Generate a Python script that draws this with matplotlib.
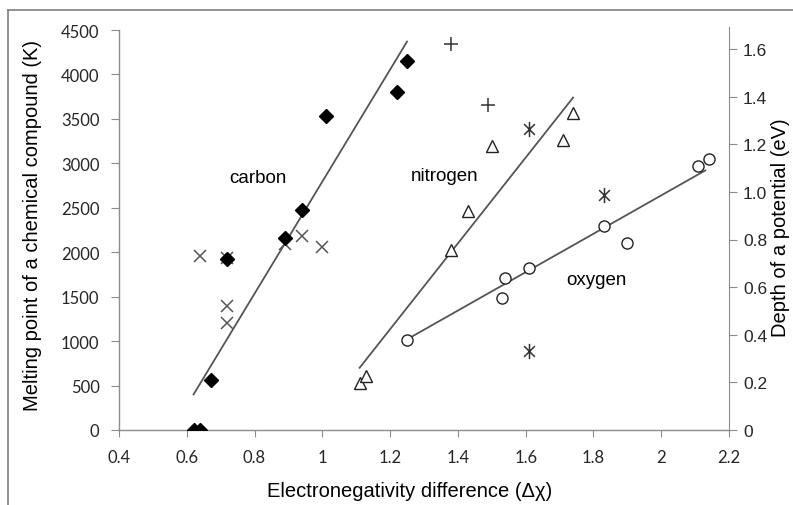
import numpy as np
import matplotlib
matplotlib.use("Agg")
import matplotlib.pyplot as plt
from matplotlib.path import Path
from matplotlib.lines import Line2D

# ---- data ----
carbon_x = [0.62, 0.64, 0.67, 0.72, 0.89, 0.94, 1.01, 1.22, 1.25]
carbon_y = [0, 0, 560, 1920, 2160, 2470, 3530, 3800, 4150]
cross_x = [0.64, 0.72, 0.72, 0.72, 0.89, 0.94, 1.00]
cross_y = [1960, 1940, 1400, 1200, 2090, 2180, 2060]
plus_x = [1.38, 1.49]
plus_y = [4340, 3660]
star_x = [1.61, 1.83, 1.61]
star_y = [3390, 2640, 890]
tri_x = [1.11, 1.13, 1.38, 1.43, 1.50, 1.71, 1.74]
tri_y = [530, 610, 2020, 2460, 3190, 3260, 3570]
circ_x = [1.25, 1.53, 1.54, 1.61, 1.83, 1.90, 2.11, 2.14]
circ_y = [1010, 1490, 1710, 1820, 2300, 2100, 2970, 3050]

carbon_fit_x = [0.62, 1.25]
carbon_fit_y = [400, 4370]
nitrogen_fit_x = [1.11, 1.74]
nitrogen_fit_y = [700, 3740]
oxygen_fit_x = [1.25, 2.13]
oxygen_fit_y = [1020, 2920]

x_ticks = [0.4, 0.6, 0.8, 1.0, 1.2, 1.4, 1.6, 1.8, 2.0, 2.2]
x_tick_labels = ["0.4", "0.6", "0.8", "1", "1.2", "1.4", "1.6", "1.8", "2", "2.2"]
y_ticks = [0, 500, 1000, 1500, 2000, 2500, 3000, 3500, 4000, 4500]
y2_ticks = [0, 0.2, 0.4, 0.6, 0.8, 1.0, 1.2, 1.4, 1.6]
y2_tick_labels = ["0", "0.2", "0.4", "0.6", "0.8", "1.0", "1.2", "1.4", "1.6"]

labels = ["carbon", "nitrogen", "oxygen"]
label_x = [0.81, 1.36, 1.81]
label_y = [2840, 2860, 1690]

# ---- figure ----
W, H = 793, 506
fig = plt.figure(figsize=(W / 100, H / 100), dpi=100)

def fx(px):
    return px / W

def fy(py):
    return 1 - py / H

ax = fig.add_axes([fx(119), fy(431), fx(729) - fx(119), fy(31) - fy(431)])
ax.set_xlim(0.4, 2.2)
ax.set_ylim(0, 4500)

spine_c = "#8c8c8c"
tick_font = "Lato"
txt_c = "#262626"

for s in ["top", "right"]:
    ax.spines[s].set_visible(False)
for s in ["left", "bottom"]:
    ax.spines[s].set_color(spine_c)
    ax.spines[s].set_linewidth(1.0)

ax.set_xticks(x_ticks)
ax.set_xticklabels(x_tick_labels, fontfamily=tick_font, fontsize=12, color=txt_c)
ax.set_yticks(y_ticks)
ax.set_yticklabels([str(v) for v in y_ticks], fontfamily=tick_font, fontsize=12, color=txt_c)
ax.tick_params(axis="x", direction="out", length=5, color=spine_c, pad=9)
ax.tick_params(axis="y", direction="out", length=6, color=spine_c, pad=8)

# secondary axis
ax2 = fig.add_axes([fx(119), fy(431), fx(729) - fx(119), fy(28) - fy(431)])
ax2.patch.set_visible(False)
ax2.set_ylim(0, (431 - 28) / (431 - 50) * 1.6)
ax2.set_xlim(0.4, 2.2)
for s in ["top", "left", "bottom"]:
    ax2.spines[s].set_visible(False)
ax2.spines["right"].set_color(spine_c)
ax2.xaxis.set_visible(False)
ax2.yaxis.tick_right()
ax2.set_yticks(y2_ticks)
ax2.set_yticklabels(y2_tick_labels, fontfamily="Liberation Sans", fontsize=12.5, color=txt_c)
ax2.tick_params(axis="y", direction="out", length=6, color=spine_c, pad=4)

line_c = "#555555"
ax.plot(carbon_fit_x, carbon_fit_y, color=line_c, lw=1.3, zorder=2)
ax.plot(nitrogen_fit_x, nitrogen_fit_y, color=line_c, lw=1.3, zorder=2)
ax.plot(oxygen_fit_x, oxygen_fit_y, color=line_c, lw=1.3, zorder=2)

# asterisk-like marker: vertical bar plus an x
a = np.deg2rad(45)
ca, sa = np.cos(a), np.sin(a)
star_path = Path(
    [(0, -1), (0, 1), (-ca, -sa), (ca, sa), (-ca, sa), (ca, -sa)],
    [Path.MOVETO, Path.LINETO, Path.MOVETO, Path.LINETO, Path.MOVETO, Path.LINETO],
)

ax.plot(cross_x, cross_y, ls="none", marker="x", ms=9, mew=1.1, color="#555555", zorder=3)
ax.plot(carbon_x, carbon_y, ls="none", marker="D", ms=7.5, color="black", zorder=4)
ax.plot(plus_x, plus_y, ls="none", marker="+", ms=9.5, mew=1.1, color="#333333", zorder=3)
ax.plot(star_x, star_y, ls="none", marker=star_path, ms=11, mew=1.1, color="#333333", zorder=3)
ax.plot(tri_x, tri_y, ls="none", marker="^", ms=8.5, mew=1.0, mfc="white", mec="#222222", zorder=3)
ax.plot(circ_x, circ_y, ls="none", marker="o", ms=8, mew=1.0, mfc="white", mec="#222222", zorder=3)

for t, x, y in zip(labels, label_x, label_y):
    ax.text(x, y, t, fontfamily="Liberation Sans", fontsize=13.5, color="black",
            ha="center", va="center")

fig.text(fx(410), fy(492), "Electronegativity difference (\u0394\u03c7)", fontfamily="Liberation Sans",
         fontsize=14.5, color="black", ha="center", va="center")
fig.text(fx(33), fy(226), "Melting point of a chemical compound (K)", fontfamily="Liberation Sans",
         fontsize=14.5, color="black", ha="center", va="center", rotation=90)
fig.text(fx(780), fy(228), "Depth of a potential (eV)", fontfamily="Liberation Sans",
         fontsize=14.5, color="black", ha="center", va="center", rotation=90)

# outer frame (top and left edges visible)
fig.add_artist(Line2D([fx(8), 1], [fy(11), fy(11)], color="#7f7f7f", lw=1.2))
fig.add_artist(Line2D([fx(8), fx(8)], [fy(11), 0], color="#7f7f7f", lw=1.2))

fig.savefig("out.png", dpi=100)
